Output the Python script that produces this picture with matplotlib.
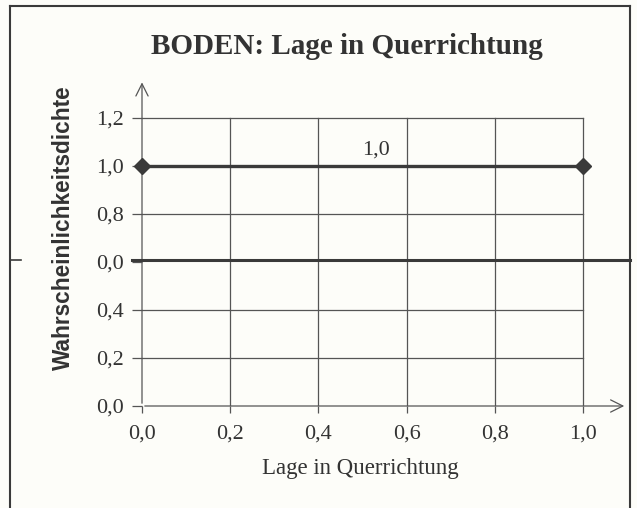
import matplotlib.pyplot as plt
from matplotlib.lines import Line2D

# daten
x_punkte = [0.0, 1.0]
dichte = [1.0, 1.0]
x_ticks = [0.0, 0.2, 0.4, 0.6, 0.8, 1.0]
x_ticklabels = ['0,0', '0,2', '0,4', '0,6', '0,8', '1,0']
y_ticks = [0.0, 0.2, 0.4, 0.6, 0.8, 1.0, 1.2]
y_ticklabels = ['0,0', '0,2', '0,4', '0,0', '0,8', '1,0', '1,2']
wert_label = '1,0'

ink = '#3a3a3a'
grid_c = '#555555'
bg = '#fdfdf9'

fig = plt.figure(figsize=(6.37, 5.08), dpi=100, facecolor=bg)
ax = fig.add_axes([142/637, 1 - 406/508, 485/637, 324/508])
ax.set_facecolor(bg)
ax.set_xlim(0, 1.1)
ax.set_ylim(0, 1.35)
for s in ax.spines.values():
    s.set_visible(False)

# gitter
for yv in y_ticks[1:]:
    if yv == 0.6:
        continue
    ax.plot([0, 1.0], [yv, yv], color=grid_c, lw=0.9, zorder=1, clip_on=False)
for xv in x_ticks[1:]:
    ax.plot([xv, xv], [0, 1.2], color=grid_c, lw=0.9, zorder=1)

# achsen mit pfeilen
ax.annotate('', xy=(1.1, 0), xytext=(0, 0),
            arrowprops=dict(arrowstyle='->', color=grid_c, lw=0.9,
                            mutation_scale=22), annotation_clip=False)
ax.annotate('', xy=(0, 1.36), xytext=(0, 0),
            arrowprops=dict(arrowstyle='->', color=grid_c, lw=0.9,
                            mutation_scale=22), annotation_clip=False)

# dicke linie bei 0,6 durch den ganzen rahmen
fig.add_artist(Line2D([132/637, 630/637], [1 - 260/508] * 2, color=ink, lw=2.2))
fig.add_artist(Line2D([10/637, 21/637], [1 - 260/508] * 2, color=ink, lw=1.2))

# dichte
ax.plot(x_punkte, dichte, color=ink, lw=2.4, marker='D', markersize=8,
        clip_on=False, zorder=3)
ax.text(0.53, dichte[0] + 0.025, wert_label, ha='center', va='bottom',
        family='Liberation Serif', fontsize=16, color='#333333')

ax.set_xticks(x_ticks)
ax.set_xticklabels(x_ticklabels, family='Liberation Serif', fontsize=16, color='#333333')
ax.set_yticks(y_ticks)
ax.set_yticklabels(y_ticklabels, family='Liberation Serif', fontsize=16, color='#333333')
ax.tick_params(axis='x', length=5, width=0.9, color=grid_c, pad=8)
ax.tick_params(axis='y', length=7, width=0.9, color=grid_c, pad=6)

ax.set_xlabel('Lage in Querrichtung', family='Liberation Serif', fontsize=16.5,
              color='#333333')
ax.xaxis.set_label_coords((360 - 142) / 485, -(458 - 406) / 324)
ax.set_ylabel('Wahrscheinlichkeitsdichte', family='Liberation Sans',
              fontweight='bold', fontsize=16.3, color='#333333')
ax.yaxis.set_label_coords(-(142 - 75) / 485, (406 - 228) / 324)

fig.text(347/637, 1 - 46/508, 'BODEN: Lage in Querrichtung', ha='center', va='center',
         family='Liberation Serif', fontweight='bold', fontsize=21, color='#333333')

# rahmen
fig.add_artist(Line2D([10/637, 630/637], [1 - 6/508] * 2, color=ink, lw=1.5))
fig.add_artist(Line2D([10/637, 10/637], [0, 1 - 6/508], color=ink, lw=1.5))
fig.add_artist(Line2D([630/637, 630/637], [0, 1 - 6/508], color=ink, lw=1.5))

fig.savefig('out.png', dpi=100, facecolor=bg)
